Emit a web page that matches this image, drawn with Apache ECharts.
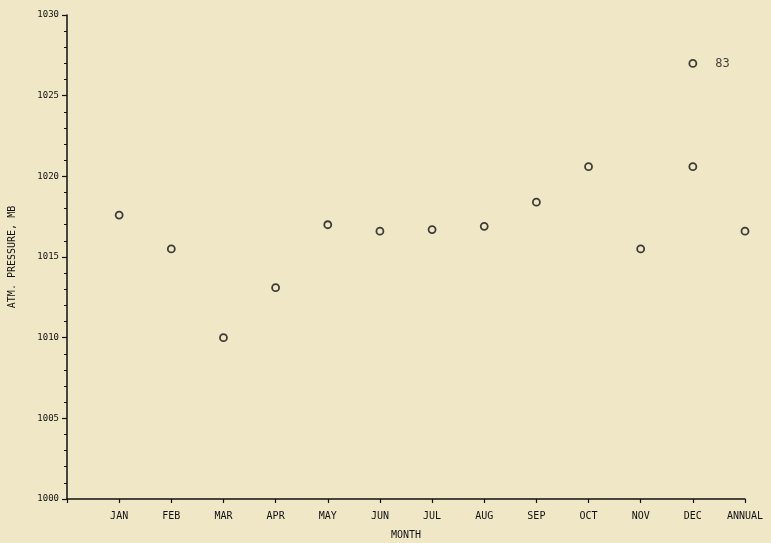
<!DOCTYPE html>
<html>
<head>
<meta charset="utf-8">
<script src="https://cdn.jsdelivr.net/npm/echarts@6/dist/echarts.min.js"></script>
<style>
  html, body { margin: 0; padding: 0; background: #f0e7c6; }
  #chart { width: 771px; height: 543px; }
</style>
</head>
<body>
<div id="chart"></div>
<script>
// Mean monthly atmospheric pressure (mb) and the annual mean
const months = ['JAN', 'FEB', 'MAR', 'APR', 'MAY', 'JUN', 'JUL', 'AUG', 'SEP', 'OCT', 'NOV', 'DEC', 'ANNUAL'];
const pressure = [1017.6, 1015.5, 1010.0, 1013.1, 1017.0, 1016.6, 1016.7, 1016.9, 1018.4, 1020.6, 1015.5, 1020.6, 1016.6];

// Single-year extreme shown separately
const extremeMonth = 'DEC';
const extremeValue = 1027.0;
const extremeLabel = '83';

// Y axis ticks
const yMin = 1000;
const yMax = 1030;
const yStep = 5;

const ink = '#111111';
const paper = '#f0e7c6';
const font = '"DejaVu Sans Mono", "Liberation Mono", monospace';

// month positions on the x axis: 1..13 (0 is the axis origin)
const monthPoints = months.map((m, i) => [i + 1, pressure[i]]);
const extremePoint = [[months.indexOf(extremeMonth) + 1, extremeValue]];

const chart = echarts.init(document.getElementById('chart'));
chart.setOption({
  backgroundColor: paper,
  animation: false,
  grid: { left: 67, right: 26, top: 15, bottom: 44, containLabel: false, outerBoundsMode: 'none' },
  xAxis: {
    type: 'value',
    min: 0,
    max: months.length,
    interval: 1,
    name: 'MONTH',
    nameLocation: 'middle',
    nameGap: 31,
    nameTextStyle: { color: ink, fontFamily: font, fontSize: 10 },
    axisLine: { show: true, lineStyle: { color: ink, width: 1.5 } },
    axisTick: { show: true, length: 4, lineStyle: { color: ink, width: 1.2 } },
    axisLabel: {
      color: ink, fontFamily: font, fontSize: 10, margin: 12,
      formatter: v => (v >= 1 && v <= months.length) ? months[v - 1] : ''
    },
    splitLine: { show: false }
  },
  yAxis: {
    type: 'value',
    min: yMin,
    max: yMax,
    interval: yStep,
    name: 'ATM. PRESSURE, MB',
    nameLocation: 'middle',
    nameGap: 50,
    nameTextStyle: { color: ink, fontFamily: font, fontSize: 10 },
    axisLine: { show: true, lineStyle: { color: ink, width: 1.5 } },
    axisTick: { show: true, length: 5, lineStyle: { color: ink, width: 1.2 } },
    minorTick: { show: true, splitNumber: 5, length: 3, lineStyle: { color: ink, width: 1 } },
    axisLabel: {
      color: ink, fontFamily: font, fontSize: 9, margin: 8,
      formatter: v => String(v)
    },
    splitLine: { show: false }
  },
  series: [
    {
      type: 'scatter',
      data: monthPoints,
      symbol: 'circle',
      symbolSize: 7,
      itemStyle: { color: paper, borderColor: ink, borderWidth: 1.8 }
    },
    {
      type: 'scatter',
      data: extremePoint,
      symbol: 'circle',
      symbolSize: 7,
      itemStyle: { color: paper, borderColor: ink, borderWidth: 1.8 },
      label: {
        show: true,
        position: 'right',
        distance: 18,
        formatter: () => extremeLabel,
        color: ink,
        fontFamily: font,
        fontSize: 12
      }
    }
  ]
});
</script>
</body>
</html>
